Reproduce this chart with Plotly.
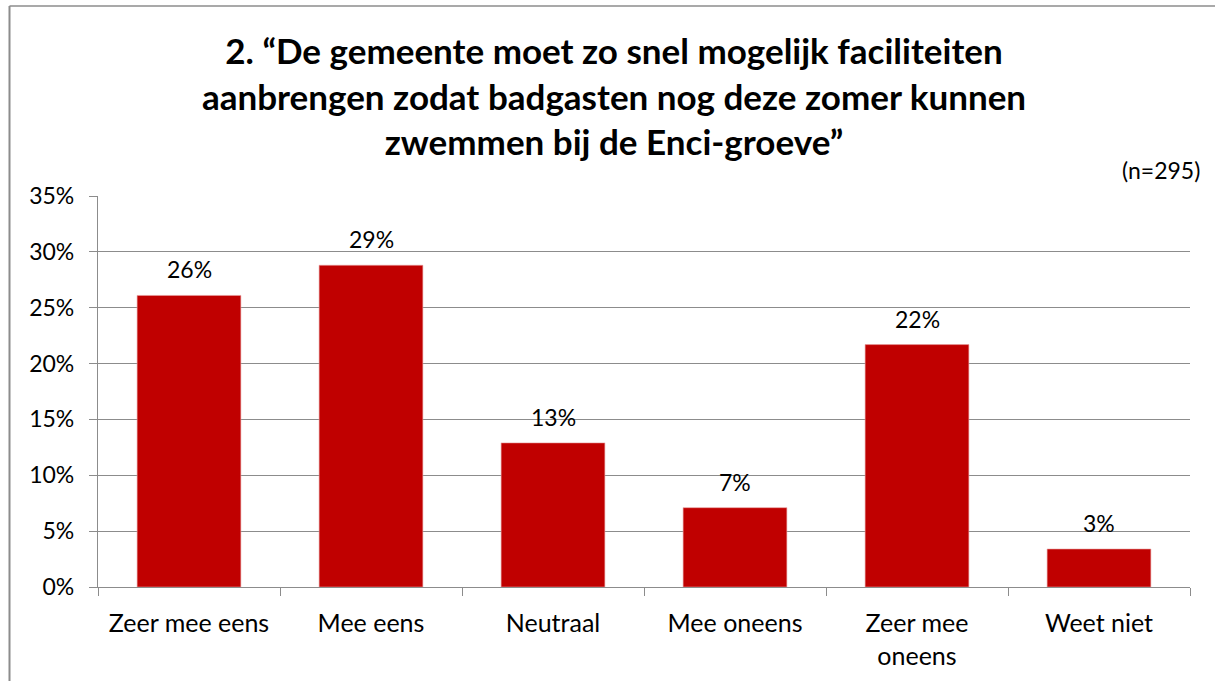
import plotly.graph_objects as go

categories = ["Zeer mee eens", "Mee eens", "Neutraal", "Mee oneens", "Zeer mee<br>oneens", "Weet niet"]
values = [26.1, 28.8, 12.9, 7.1, 21.7, 3.4]
labels = ["26%", "29%", "13%", "7%", "22%", "3%"]
y_ticks = [0, 5, 10, 15, 20, 25, 30, 35]
y_tick_labels = ["0%", "5%", "10%", "15%", "20%", "25%", "30%", "35%"]

FONT = "Lato"
GRID = "#8c8c8c"

W, H = 1215, 681
ML, MR, MT, MB = 98, 25, 196, 94
PW, PH = W - ML - MR, H - MT - MB

fig = go.Figure()
fig.add_trace(go.Bar(
    x=categories, y=values,
    marker=dict(color="#C00000", line=dict(color="#e8a0a0", width=0.6)),
    hoverinfo="skip",
))

for c, v, t in zip(categories, values, labels):
    fig.add_annotation(x=c, y=v, text=t, showarrow=False, yanchor="middle",
                       yshift=26, font=dict(family=FONT, size=23, color="#000"))

fig.add_annotation(xref="paper", yref="paper", x=1.0, y=1.0, xanchor="right", yanchor="middle",
                   xshift=12, yshift=196 - 170, text="(n=295)", showarrow=False,
                   font=dict(family=FONT, size=23, color="#000"))

fig.update_layout(
    width=W, height=H,
    margin=dict(l=ML, r=MR, t=MT, b=MB),
    paper_bgcolor="white", plot_bgcolor="white",
    showlegend=False,
    bargap=0.43,
    title=dict(
        text="2. “De gemeente moet zo snel mogelijk faciliteiten<br>aanbrengen zodat badgasten nog deze zomer kunnen<br>zwemmen bij de Enci-groeve”",
        x=614 / W, xanchor="center", y=1 - 64 / H, yanchor="middle", yref="container",
        font=dict(family=FONT, size=35, color="#000", weight="bold"),
    ),
    font=dict(family=FONT, size=24, color="#000"),
    shapes=[
        dict(type="line", xref="paper", yref="paper",
             x0=(9.5 - ML) / PW, x1=2, y0=1 + (MT - 6) / PH, y1=1 + (MT - 6) / PH,
             line=dict(color="#8c8c8c", width=1.3)),
        dict(type="line", xref="paper", yref="paper",
             x0=(9.5 - ML) / PW, x1=(9.5 - ML) / PW, y0=-1, y1=1 + (MT - 6) / PH,
             line=dict(color="#8c8c8c", width=2)),
    ],
)

fig.update_xaxes(
    showline=True, linecolor=GRID, linewidth=1.3,
    ticks="outside", tickson="boundaries", ticklen=8, tickcolor=GRID, tickwidth=1.3,
    ticklabelstandoff=14,
    showgrid=False, tickfont=dict(family=FONT, size=25),
)
fig.update_yaxes(
    range=[0, 35], tickvals=y_ticks, ticktext=y_tick_labels,
    showline=True, linecolor=GRID, linewidth=1.3,
    ticks="outside", ticklen=8, tickcolor=GRID, tickwidth=1.3,
    ticklabelstandoff=10,
    showgrid=True, gridcolor=GRID, gridwidth=1.3, zeroline=False,
    tickfont=dict(family=FONT, size=23),
)

fig.write_html("out.html", config={"displayModeBar": False},
               post_script="document.body.style.margin='0';")
